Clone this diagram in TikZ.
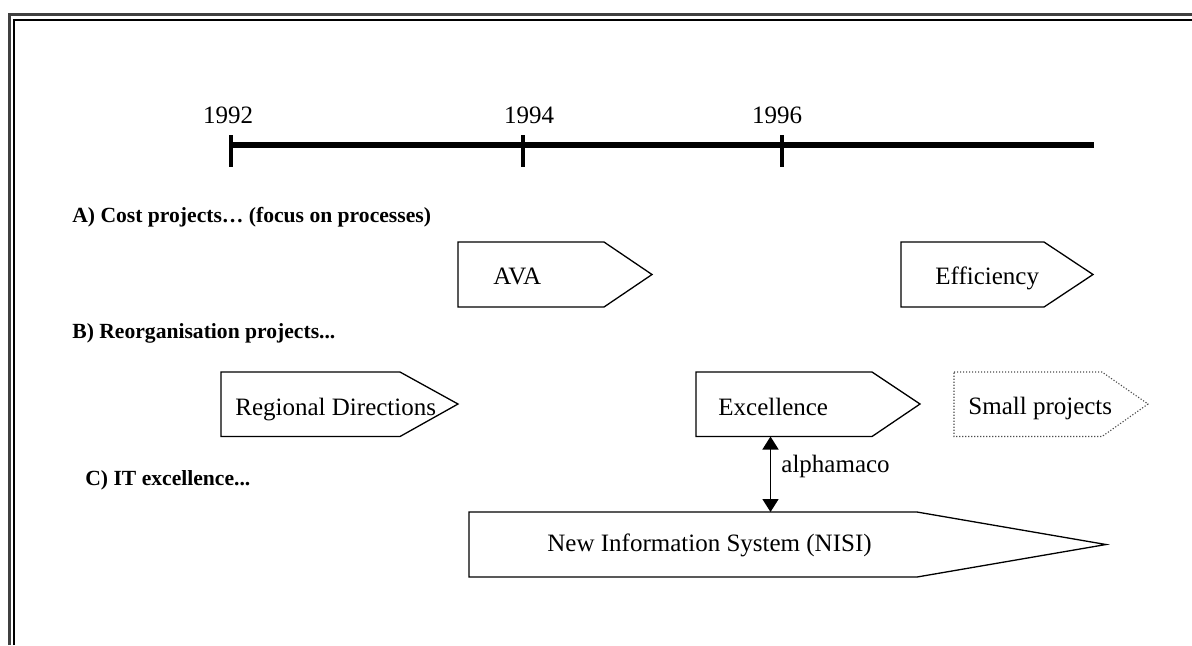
\documentclass[tikz,border=0pt]{standalone}
\usepackage{fontspec}
\setmainfont{Liberation Serif}
\usepackage{tikz}
\usetikzlibrary{arrows.meta}

\begin{document}
\begin{tikzpicture}[x=0.5pt,y=-0.5pt,>={Triangle[length=6.5pt,width=8pt]},
  txt/.style={inner sep=0pt,anchor=base west,font=\fontsize{12.5}{15}\selectfont},
  head/.style={inner sep=0pt,anchor=base west,font=\fontsize{10.8}{13}\selectfont\bfseries},
  pbox/.style={line width=0.65pt,line join=miter}]
\useasboundingbox (0,0) rectangle (1192,645);
% frame
\draw[line width=1.5pt,black!75] (9.5,645) -- (9.5,14.5) -- (1192,14.5);
\draw[line width=1.2pt] (14,645) -- (14,20) -- (1192,20);
% time line
\draw[line width=2.6pt] (231,145) -- (1094,145);
\foreach \x/\lx/\yr in {231/228/1992,523/529/1994,782/777/1996}{
  \draw[line width=1.6pt] (\x,135) -- (\x,167);
  \node[inner sep=0pt,anchor=base,font=\fontsize{12.5}{15}\selectfont] (y\yr) at (\lx,123) {\yr};
}
% A) cost projects
\node[head] (labA) at (72,222) {A) Cost projects\dots\ (focus on processes)};
\draw[pbox] (458,242) -- (604,242) -- (652,274.5) -- (604,307) -- (458,307) -- cycle;
\node[txt] (ava) at (493,284) {AVA};
\draw[pbox] (901,242) -- (1044,242) -- (1093,274.5) -- (1044,307) -- (901,307) -- cycle;
\node[txt] (eff) at (935,284) {Efficiency};
% B) reorganisation
\node[head] (labB) at (72,338) {B) Reorganisation projects...};
\draw[pbox] (221,372) -- (400,372) -- (458,404) -- (400,436.5) -- (221,436.5) -- cycle;
\node[txt] (regdir) at (235,415) {Regional Directions};
\draw[pbox] (696,372) -- (872,372) -- (920,404) -- (872,436.5) -- (696,436.5) -- cycle;
\node[txt] (exc) at (718,415) {Excellence};
\draw[line width=0.55pt,black!70,dash pattern=on 0.6pt off 0.9pt] (954,372) -- (1102,372) -- (1148,404) -- (1102,436.5) -- (954,436.5) -- cycle;
\node[txt] (small) at (968,414) {Small projects};
% C) IT
\node[head] (labC) at (85,485) {C) IT excellence...};
\draw[pbox] (469,512) -- (917,512) -- (1106,544.5) -- (917,577) -- (469,577) -- cycle;
\node[txt] (nisi) at (547,551) {New Information System (NISI)};
% link
\coordinate (excS) at (770.5,436.5);
\coordinate (nisiN) at (770.5,512);
\draw[<->,line width=0.75pt] (excS) -- (nisiN);
\node[txt] (alpha) at (781,472) {alphamaco};
\end{tikzpicture}
\end{document}
